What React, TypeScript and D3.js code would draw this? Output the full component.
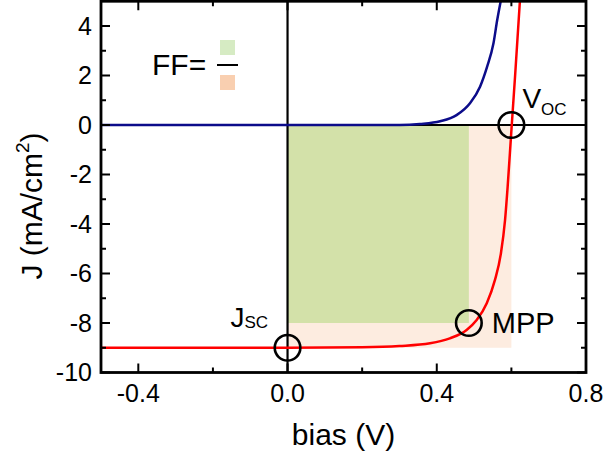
import React from "react";
import * as d3 from "d3";

// ---- data ----
const xTickValues = [-0.4, -0.2, 0.0, 0.2, 0.4, 0.6, 0.8];
const xTickLabels = ["-0.4", "", "0.0", "", "0.4", "", "0.8"];
const yTickValues = [-10, -9, -8, -7, -6, -5, -4, -3, -2, -1, 0, 1, 2, 3, 4];
const yTickLabels = ["-10", "", "-8", "", "-6", "", "-4", "", "-2", "", "0", "", "2", "", "4"];

// dark (blue) J-V curve
const darkV = [-0.5, 0.0, 0.2, 0.301, 0.355, 0.409, 0.453, 0.489, 0.516, 0.535, 0.552, 0.562, 0.572];
const darkJ = [0.0, 0.0, 0.0, 0.0, 0.04, 0.15, 0.40, 0.88, 1.55, 2.36, 3.30, 4.24, 5.05];

// illuminated (red) J-V curve
const lightV = [-0.5, 0.0, 0.2, 0.3, 0.382, 0.435, 0.48, 0.507, 0.534, 0.556, 0.572, 0.583, 0.59, 0.596, 0.601, 0.61, 0.623];
const lightJ = [-9.0, -9.0, -8.98, -8.93, -8.82, -8.62, -8.28, -7.88, -7.2, -6.26, -5.18, -3.84, -2.49, -1.14, 0.0, 2.0, 5.05];

const Voc = 0.6;
const Jsc = -9.0;
const Vmpp = 0.486;
const Jmpp = -8.0;

const W = 606;
const H = 459;
const PL = 101, PR = 586, PT = 1.25, PB = 372.5;
const FONT = "'Liberation Sans', Arial, Helvetica, sans-serif";

export default function App() {
  const x = d3.scaleLinear().domain([-0.5, 0.8]).range([PL, PR]);
  const y = d3.scaleLinear().domain([-10, 5]).range([PB, PT]);

  const line = d3
    .line<[number, number]>()
    .x((d) => x(d[0]))
    .y((d) => y(d[1]))
    .curve(d3.curveMonotoneX);

  const darkPts = darkV.map((v, i) => [v, darkJ[i]] as [number, number]);
  const lightPts = lightV.map((v, i) => [v, lightJ[i]] as [number, number]);

  const tickW = 2;
  const major = 9;
  const minor = 5;

  return (
    <svg
      width={W}
      height={H}
      style={{ position: "absolute", left: 0, top: 0, background: "#fff" }}
      fontFamily={FONT}
    >
      <defs>
        <clipPath id="plotClip">
          <rect x={PL} y={PT} width={PR - PL} height={PB - PT} />
        </clipPath>
      </defs>

      {/* filled rectangles */}
      <rect
        x={x(0)}
        y={y(0)}
        width={x(Voc) - x(0)}
        height={y(Jsc) - y(0)}
        fill="#fdece0"
      />
      <rect
        x={x(0)}
        y={y(0)}
        width={x(Vmpp) - x(0)}
        height={y(Jmpp) - y(0)}
        fill="#d3e1a9"
      />

      {/* zero lines */}
      <line x1={PL} x2={PR} y1={y(0)} y2={y(0)} stroke="#000" strokeWidth={2.2} />
      <line x1={x(0)} x2={x(0)} y1={PT} y2={PB} stroke="#000" strokeWidth={2.2} />

      {/* curves */}
      <g clipPath="url(#plotClip)">
        <path d={line(darkPts) || ""} fill="none" stroke="#0c0c8a" strokeWidth={2.5} />
        <path d={line(lightPts) || ""} fill="none" stroke="#ff0000" strokeWidth={2.5} />
      </g>

      {/* ticks */}
      <g stroke="#000" strokeWidth={tickW}>
        {xTickValues.map((v, i) => {
          const len = xTickLabels[i] ? major : minor;
          return (
            <g key={"xt" + i}>
              <line x1={x(v)} x2={x(v)} y1={PB} y2={PB - len} />
              <line x1={x(v)} x2={x(v)} y1={PT} y2={PT + len} />
            </g>
          );
        })}
        {yTickValues.map((v, i) => {
          const len = yTickLabels[i] ? major : minor;
          return (
            <g key={"yt" + i}>
              <line x1={PL} x2={PL + len} y1={y(v)} y2={y(v)} />
              <line x1={PR} x2={PR - len} y1={y(v)} y2={y(v)} />
            </g>
          );
        })}
      </g>

      {/* frame */}
      <rect
        x={PL}
        y={PT}
        width={PR - PL}
        height={PB - PT}
        fill="none"
        stroke="#000"
        strokeWidth={2.8}
      />

      {/* tick labels */}
      <g fontSize={25} fill="#000">
        {xTickValues.map((v, i) =>
          xTickLabels[i] ? (
            <text key={"xl" + i} x={x(v)} y={402} textAnchor="middle">
              {xTickLabels[i]}
            </text>
          ) : null
        )}
        {yTickValues.map((v, i) =>
          yTickLabels[i] ? (
            <text key={"yl" + i} x={92} y={y(v) + 8.5} textAnchor="end">
              {yTickLabels[i]}
            </text>
          ) : null
        )}
      </g>

      {/* axis titles */}
      <text x={(PL + PR) / 2} y={445} textAnchor="middle" fontSize={30}>
        bias (V)
      </text>
      <text
        transform={`translate(42,206) rotate(-90)`}
        textAnchor="middle"
        fontSize={30}
      >
        J (mA/cm
        <tspan fontSize={19} dy={-13}>2</tspan>
        <tspan dy={13}>)</tspan>
      </text>

      {/* marker circles */}
      <g fill="none" stroke="#000" strokeWidth={2.6}>
        <circle cx={x(0)} cy={y(Jsc)} r={12.8} />
        <circle cx={x(Voc)} cy={y(0)} r={12.8} />
        <circle cx={x(Vmpp)} cy={y(Jmpp)} r={12.8} />
      </g>

      {/* annotations */}
      <text x={x(Voc) + 11} y={y(0) - 17} fontSize={28}>
        V
        <tspan fontSize={17} dy={7}>OC</tspan>
      </text>
      <text x={x(0) - 57} y={y(Jsc) - 20.5} fontSize={28}>
        J
        <tspan fontSize={17} dy={1}>SC</tspan>
      </text>
      <text x={x(Vmpp) + 23} y={y(Jmpp) + 10} fontSize={29}>
        MPP
      </text>

      {/* FF legend */}
      <text x={152} y={75} fontSize={30}>
        FF=
      </text>
      <rect x={220} y={40} width={15} height={15} fill="#d6ebc3" />
      <line x1={217} x2={238} y1={65} y2={65} stroke="#000" strokeWidth={2} />
      <rect x={220} y={75} width={15} height={15} fill="#f9cfb0" />
    </svg>
  );
}
